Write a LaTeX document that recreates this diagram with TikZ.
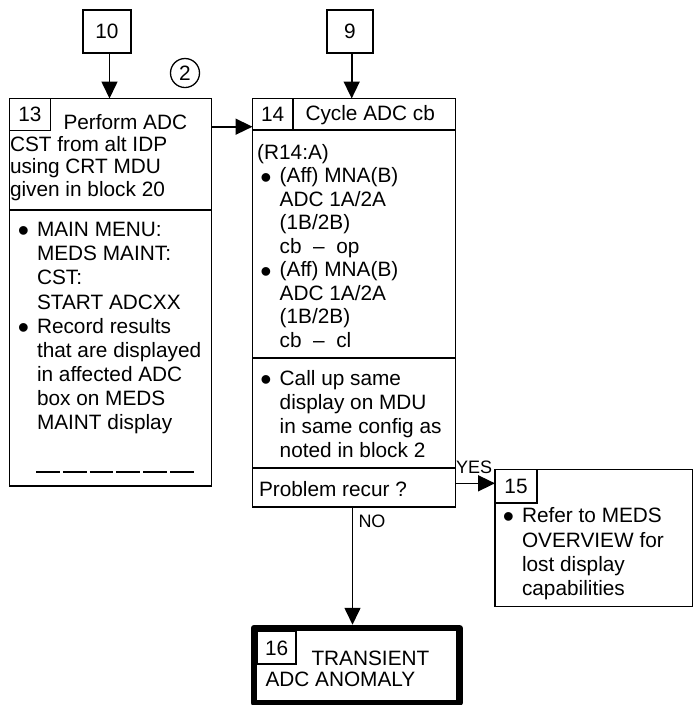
\documentclass[tikz,border=0pt]{standalone}
\usepackage{fontspec}
\setmainfont{Liberation Sans}
\usetikzlibrary{arrows.meta}
\newcommand\bul{\leavevmode\llap{\raisebox{-5.2pt}{\fontsize{32pt}{32pt}\selectfont\textbullet}\hspace{8pt}}}
\newcommand\blk[2]{\parbox[t]{220pt}{\fontsize{20.8pt}{#1}\selectfont #2}}
\begin{document}
\begin{tikzpicture}[x=1pt,y=-1pt,line width=1.5pt,
  font=\fontsize{20.8pt}{23.5pt}\selectfont,
  box/.style={draw,line width=1.5pt,inner sep=0pt,outer sep=0pt,anchor=north west},
  txt/.style={inner sep=0pt,outer sep=0pt,anchor=base west},
  lbl/.style={inner sep=0pt,outer sep=0pt,anchor=base west,font=\fontsize{18pt}{20pt}\selectfont},
  arr/.style={line width=1.6pt,-{Triangle[length=17pt,width=16pt]}}]
\useasboundingbox (0,0) rectangle (693,705);
\clip (0,0) rectangle (693,705);
% top boxes
\node[box,minimum width=48,minimum height=43] (b10) at (83,10) {10};
\node[box,minimum width=46,minimum height=43] (b9) at (327,10) {9};
\node[draw,circle,minimum size=29,inner sep=0pt,line width=1.3pt] (c2) at (185,73) {2};
% box 13
\node[box,minimum width=202,minimum height=387.5] (b13) at (9.5,98.5) {};
\node[box,minimum width=41,minimum height=32] (n13) at (9.5,98.5) {13};
\draw (9.5,210) -- (211.5,210);
\node[txt] (t13a) at (63.5,129.3) {Perform ADC};
\node[txt] (t13b) at (10,151) {\blk{22.5pt}{CST from alt IDP\\using CRT MDU\\given in block 20}};
\node[txt] (t13c) at (37,236.7) {\blk{24.1pt}{\bul MAIN MENU:\\MEDS MAINT:\\CST:\\START ADCXX\\\bul Record results\\that are displayed\\in affected ADC\\box on MEDS\\MAINT display}};
\draw[line width=1.2pt,dash pattern=on 23.8pt off 3pt] (36,472) -- (194,472);
% box 14
\node[box,minimum width=203,minimum height=408.5] (b14) at (252.5,98.5) {};
\node[box,minimum width=40.5,minimum height=31.5] (n14) at (252.5,98.5) {14};
\draw (252.5,130) -- (455.5,130);
\draw (252.5,358) -- (455.5,358);
\draw (252.5,468) -- (455.5,468);
\node[txt] (t14a) at (305.5,120) {Cycle ADC cb};
\node[txt] (t14b) at (279.7,159.3) {\blk{23.5pt}{\hspace*{-22.5pt}(R14:A)\\\bul (Aff) MNA(B)\\ADC 1A/2A\\(1B/2B)\\cb~~–~~op\\\bul (Aff) MNA(B)\\ADC 1A/2A\\(1B/2B)\\cb~~–~~cl}};
\node[txt] (t14c) at (279.7,385) {\blk{24pt}{\bul Call up same\\display on MDU\\in same config as\\noted in block 2}};
\node[txt] (t14d) at (259,496.7) {Problem recur ?};
% box 15
\node[box,minimum width=197.3,minimum height=137] (b15) at (495,469.5) {};
\node[box,minimum width=42,minimum height=33.5] (n15) at (495,469.5) {15};
\node[txt] (t15) at (522,522.7) {\blk{24.4pt}{\bul Refer to MEDS\\OVERVIEW for\\lost display\\capabilities}};
% box 16
\node[box,line width=6.5pt,line join=round,minimum width=205.5,minimum height=75] (b16) at (254,628) {};
\node[box,minimum width=38.7,minimum height=32.3] (n16) at (257.3,631.7) {16};
\node[txt] (t16a) at (311.5,665) {TRANSIENT};
\node[txt] (t16b) at (265.5,686.7) {ADC ANOMALY};
% connectors
\draw[arr] ([xshift=2.5pt]b10.south) -- ([xshift=2.5pt]b10.south |- b13.north);
\draw[arr] ([xshift=1.7pt]b9.south) -- ([xshift=1.7pt]b9.south |- b14.north);
\coordinate (p13) at (211.5,126.7);
\draw[arr] (p13) -- (p13 -| b14.west);
\coordinate (pyes) at (455.5,483.3);
\draw[arr] (pyes) -- (pyes -| b15.west);
\coordinate (pno) at (352.5,507);
\coordinate (p16) at ([yshift=3.25pt]b16.north);
\draw[arr] (pno) -- (pno |- p16);
\node[lbl] (lyes) at (456,473) {YES};
\node[lbl] (lno) at (358.5,527) {NO};
\end{tikzpicture}
\end{document}
